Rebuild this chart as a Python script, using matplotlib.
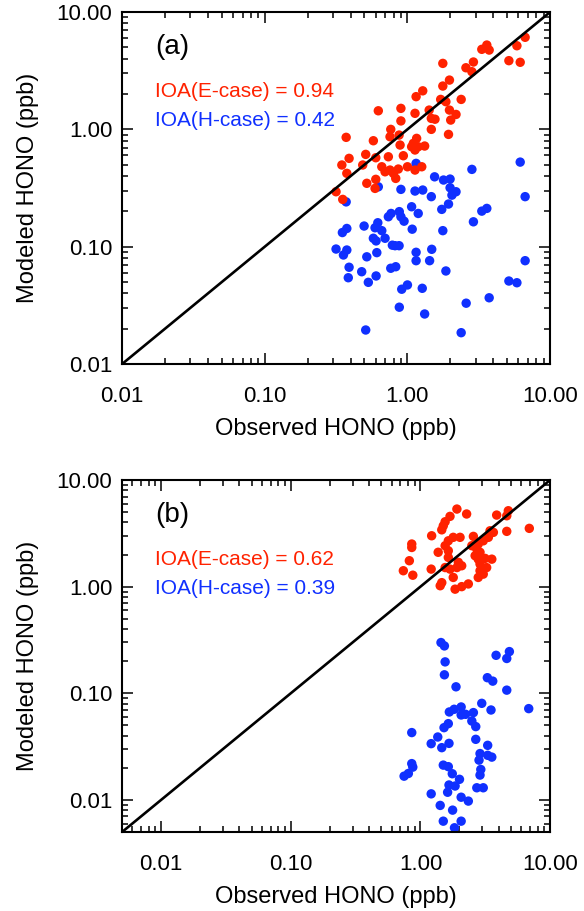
import matplotlib
matplotlib.use("Agg")
import matplotlib.pyplot as plt
from matplotlib.ticker import FuncFormatter, NullFormatter, LogLocator

plt.rcParams['font.family'] = ['Liberation Sans', 'DejaVu Sans']

RED = '#ff2200'
BLUE = '#1030ff'

# panel (a): observed vs modeled HONO (ppb)
a_obs_e = [6.68, 5.85, 5.14, 6.17, 3.32, 3.60, 3.74, 2.90, 2.57, 2.83,
           1.77, 1.97, 1.77, 1.28, 1.15, 1.71, 1.86, 2.38, 0.625, 0.90,
           1.13, 1.42, 1.97, 2.19, 2.01, 0.90, 1.47, 1.56, 0.764, 1.47,
           0.372, 0.577, 0.755, 0.874, 1.94, 1.16, 1.10, 0.888, 1.07, 1.19,
           1.32, 0.51, 0.39, 0.60, 0.735, 0.936, 1.13, 0.347, 0.486, 0.661,
           0.755, 0.863, 1.00, 1.26, 1.13, 0.697, 0.376, 0.797, 0.828, 0.60,
           0.519, 0.593, 0.316, 0.352]
a_mod_e = [6.09, 5.16, 3.85, 3.73, 4.81, 5.23, 4.74, 3.75, 3.35, 3.10,
           3.65, 2.63, 2.34, 2.13, 1.90, 1.80, 1.72, 1.80, 1.44, 1.51,
           1.37, 1.46, 1.46, 1.34, 1.20, 1.18, 1.24, 1.22, 1.00, 1.00,
           0.855, 0.80, 0.865, 0.894, 0.906, 0.838, 0.760, 0.735, 0.711, 0.711,
           0.721, 0.612, 0.566, 0.573, 0.584, 0.596, 0.667, 0.497, 0.497, 0.48,
           0.45, 0.459, 0.48, 0.48, 0.45, 0.435, 0.422, 0.422, 0.382, 0.375,
           0.347, 0.314, 0.294, 0.253]
a_obs_h = [1.15, 2.83, 6.17, 1.55, 1.79, 1.99, 0.625, 0.90, 1.13, 1.28,
           1.99, 2.19, 2.05, 1.47, 6.68, 0.372, 1.94, 1.07, 1.74, 3.32,
           3.60, 0.877, 0.768, 0.735, 0.90, 1.19, 0.947, 2.90, 0.62, 0.497,
           0.593, 0.376, 0.35, 0.661, 1.08, 1.77, 0.577, 0.697, 0.603, 0.784,
           0.819, 0.874, 0.316, 0.376, 0.356, 0.61, 0.519, 1.15, 1.48, 1.15,
           1.43, 6.68, 0.39, 0.764, 0.828, 0.385, 0.478, 0.603, 0.532, 1.86,
           5.14, 5.85, 0.912, 1.00, 1.27, 3.74, 2.58, 0.877, 1.32, 0.51,
           2.38]
a_mod_h = [0.513, 0.456, 0.526, 0.394, 0.37, 0.377, 0.324, 0.308, 0.298, 0.304,
           0.318, 0.294, 0.275, 0.267, 0.267, 0.241, 0.231, 0.219, 0.208, 0.201,
           0.212, 0.199, 0.192, 0.18, 0.18, 0.192, 0.165, 0.163, 0.16, 0.15,
           0.145, 0.143, 0.132, 0.137, 0.141, 0.137, 0.118, 0.118, 0.112, 0.103,
           0.102, 0.102, 0.0955, 0.0937, 0.085, 0.089, 0.082, 0.0896, 0.095, 0.076,
           0.076, 0.076, 0.0668, 0.0655, 0.0675, 0.0544, 0.0612, 0.0563, 0.0497, 0.0621,
           0.051, 0.0493, 0.0434, 0.0472, 0.0442, 0.0367, 0.033, 0.0305, 0.0267, 0.0195,
           0.0185]

# panel (b)
b_obs_e = [1.91, 2.27, 1.69, 1.55, 1.50, 1.46, 3.87, 4.76, 4.63, 6.91,
           4.63, 1.22, 0.857, 0.857, 1.79, 2.02, 1.64, 1.55, 1.37, 1.64,
           1.64, 2.56, 3.44, 3.65, 3.34, 3.05, 2.79, 2.49, 2.72, 2.88,
           2.64, 2.79, 3.15, 3.55, 2.88, 3.24, 2.88, 3.05, 2.79, 0.821,
           0.738, 0.873, 1.21, 1.55, 1.69, 1.96, 2.08, 1.91, 1.79, 1.46,
           1.42, 1.85, 2.08, 2.34]
b_mod_e = [5.34, 4.80, 4.56, 4.06, 3.72, 3.41, 4.69, 5.15, 4.62, 3.52,
           3.30, 3.00, 2.51, 2.33, 2.90, 2.90, 2.69, 2.42, 2.10, 2.17,
           1.88, 2.96, 3.34, 3.23, 2.90, 2.69, 2.51, 2.42, 2.25, 2.10,
           1.95, 1.81, 1.84, 1.81, 1.63, 1.51, 1.41, 1.31, 1.22, 1.75,
           1.41, 1.28, 1.46, 1.51, 1.46, 1.69, 1.57, 1.51, 1.22, 1.09,
           1.02, 0.947, 1.00, 1.06]
b_obs_h = [1.44, 1.53, 1.55, 1.53, 1.88, 3.83, 4.85, 4.63, 3.28, 3.61,
           4.63, 6.84, 2.97, 3.50, 1.67, 1.82, 2.06, 2.06, 2.23, 2.56,
           2.49, 2.67, 1.64, 1.52, 0.857, 1.36, 1.21, 1.46, 1.66, 2.67,
           3.30, 2.88, 2.83, 3.30, 3.55, 0.857, 0.873, 0.748, 0.807, 1.50,
           1.64, 1.76, 2.00, 2.92, 2.88, 1.66, 1.85, 1.62, 2.72, 3.05,
           1.21, 2.06, 2.34, 1.42, 1.77, 1.50, 2.06, 1.83]
b_mod_h = [0.299, 0.278, 0.197, 0.149, 0.115, 0.227, 0.246, 0.212, 0.140, 0.130,
           0.107, 0.0718, 0.0805, 0.0697, 0.0668, 0.0708, 0.0744, 0.0626, 0.0635, 0.0659,
           0.0549, 0.0487, 0.0519, 0.0476, 0.0428, 0.0389, 0.0337, 0.0309, 0.0339, 0.037,
           0.0325, 0.0272, 0.0236, 0.0262, 0.0252, 0.0219, 0.0203, 0.0167, 0.0177, 0.0212,
           0.0205, 0.0176, 0.0156, 0.0193, 0.0171, 0.0138, 0.0135, 0.0118, 0.013, 0.013,
           0.0114, 0.0106, 0.00975, 0.00888, 0.00802, 0.00632, 0.00632, 0.00548]

panels = [
    dict(pos=[0.209, 0.6004, 0.733, 0.3864], lim=(0.01, 10.0), tag='(a)',
         ioa_e='0.94', ioa_h='0.42',
         e=(a_obs_e, a_mod_e), h=(a_obs_h, a_mod_h)),
    dict(pos=[0.209, 0.0867, 0.733, 0.3864], lim=(0.005, 10.0), tag='(b)',
         ioa_e='0.62', ioa_h='0.39',
         e=(b_obs_e, b_mod_e), h=(b_obs_h, b_mod_h)),
]

fig = plt.figure(figsize=(5.84, 9.11), dpi=100)

for p in panels:
    ax = fig.add_axes(p['pos'])
    lo, hi = p['lim']
    ax.set_xscale('log')
    ax.set_yscale('log')
    ax.set_xlim(lo, hi)
    ax.set_ylim(lo, hi)

    ax.scatter(*p['h'], s=46, color=BLUE, edgecolors='none', zorder=2)
    ax.scatter(*p['e'], s=46, color=RED, edgecolors='none', zorder=3)
    ax.plot([lo, hi], [lo, hi], color='black', lw=1.9, zorder=4,
            solid_capstyle='butt')

    fmt = FuncFormatter(lambda v, pos: f"{v:.2f}")
    for axis in (ax.xaxis, ax.yaxis):
        axis.set_major_locator(LogLocator(base=10))
        axis.set_minor_locator(LogLocator(base=10, subs=range(2, 10)))
        axis.set_major_formatter(fmt)
        axis.set_minor_formatter(NullFormatter())

    ax.tick_params(which='both', direction='in', top=True, right=True,
                   width=1.1, labelsize=16)
    ax.tick_params(which='major', length=8)
    ax.tick_params(which='minor', length=4)
    ax.tick_params(axis='x', which='major', pad=16)
    ax.tick_params(axis='y', which='major', pad=7)
    for sp in ax.spines.values():
        sp.set_linewidth(1.5)

    ax.set_xlabel('Observed HONO (ppb)', fontsize=17, labelpad=8)
    ax.set_ylabel('Modeled HONO (ppb)', fontsize=17, labelpad=13)

    ax.text(0.077, 0.90, p['tag'], transform=ax.transAxes, fontsize=20,
            ha='left', va='center')
    ax.text(0.077, 0.773, 'IOA(E-case) = ' + p['ioa_e'], color=RED,
            transform=ax.transAxes, fontsize=15, ha='left', va='center')
    ax.text(0.077, 0.693, 'IOA(H-case) = ' + p['ioa_h'], color=BLUE,
            transform=ax.transAxes, fontsize=15, ha='left', va='center')

fig.savefig('out.png', dpi=100)
